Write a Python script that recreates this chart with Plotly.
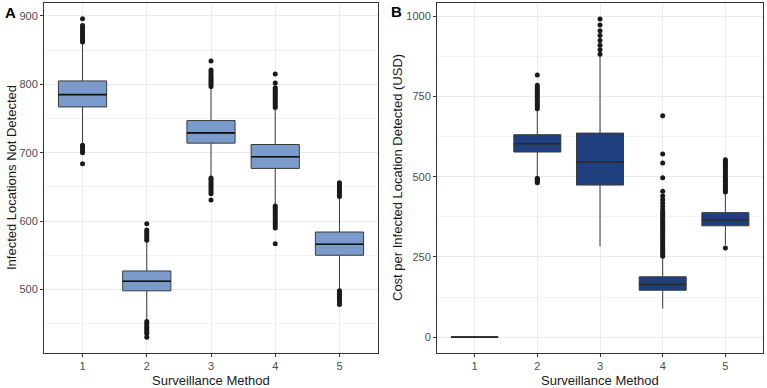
import plotly.graph_objects as go

W, H = 767, 388

methods = [1, 2, 3, 4, 5]

# Panel A: Infected Locations Not Detected (box statistics)
a_q1 = [767, 498, 714, 677, 550]
a_med = [785, 512, 729, 694, 566]
a_q3 = [805, 527, 747, 712, 584]
a_lo = [712, 455, 665, 625, 500]
a_hi = [860, 570, 796, 765, 635]
a_out = {
    1: [862, 865, 868, 871, 874, 877, 880, 883, 886, 896, 700, 703, 706, 709, 711, 684],
    2: [572, 575, 578, 581, 584, 587, 596, 435, 438, 441, 444, 447, 450, 453, 430],
    3: [797, 800, 803, 806, 809, 812, 815, 818, 821, 834, 640, 643, 646, 649, 652, 655, 658, 661, 663, 631],
    4: [766, 769, 772, 775, 778, 781, 784, 787, 790, 793, 795, 802, 815,
        590, 593, 596, 599, 602, 605, 608, 611, 614, 617, 620, 622, 567],
    5: [636, 639, 642, 645, 648, 651, 654, 656, 478, 481, 484, 487, 490, 493, 496, 498],
}

# Panel B: Cost per Infected Location Detected (USD)
b_q1 = [0, 577, 474, 146, 347]
b_med = [0, 603, 546, 164, 366]
b_q3 = [0, 631, 636, 188, 388]
b_lo = [0, 497, 283, 89, 288]
b_hi = [0, 710, 878, 250, 449]
b_out = {
    1: [],
    2: [712, 718, 724, 730, 736, 742, 748, 754, 760, 766, 772, 778, 785, 817, 481, 485, 489, 493, 495],
    3: [882, 896, 910, 925, 940, 955, 973, 992],
    4: [252, 258, 264, 270, 276, 282, 288, 294, 300, 306, 312, 318, 324, 330, 336, 342, 348,
        354, 360, 366, 372, 378, 384, 390, 397, 408, 418, 428, 440, 455, 497, 543, 571, 690],
    5: [452, 458, 464, 470, 476, 482, 488, 494, 500, 506, 512, 518, 524, 530, 536, 542, 548, 553, 278],
}

fill_a = "#7B9BCC"
fill_b = "#1F3F7E"
line_c = "#3a3a3a"
box_w = 0.75

fig = go.Figure()


def add_panel(q1, med, q3, lo, hi, out, fill, xa, ya, med_color):
    fig.add_trace(go.Box(
        x=methods, q1=q1, median=med, q3=q3, lowerfence=lo, upperfence=hi,
        fillcolor=fill, line=dict(color=line_c, width=1), width=box_w, whiskerwidth=0,
        boxpoints=False, xaxis=xa, yaxis=ya, showlegend=False, hoverinfo="skip"))
    mx, my = [], []
    for m, v in zip(methods, med):
        mx += [m - box_w / 2, m + box_w / 2, None]
        my += [v, v, None]
    fig.add_trace(go.Scatter(x=mx, y=my, mode="lines", line=dict(color=med_color, width=1.6),
                             xaxis=xa, yaxis=ya, showlegend=False, hoverinfo="skip"))
    ox, oy = [], []
    for m in methods:
        ox += [m] * len(out[m]); oy += out[m]
    fig.add_trace(go.Scatter(x=ox, y=oy, mode="markers", marker=dict(color="#1a1a1a", size=5),
                             xaxis=xa, yaxis=ya, showlegend=False, hoverinfo="skip"))


add_panel(a_q1, a_med, a_q3, a_lo, a_hi, a_out, fill_a, "x", "y", "#111111")
add_panel(b_q1, b_med, b_q3, b_lo, b_hi, b_out, fill_b, "x2", "y2", "#2a2a2a")

tickfont = dict(family="Liberation Sans, Arial, sans-serif", size=11, color="#4D4D4D")
grid = "#EBEBEB"
common_x = dict(range=[0.4, 5.6], tickvals=methods, showgrid=True, gridcolor=grid, gridwidth=1,
                showline=True, mirror=True, linecolor="#333333", linewidth=1, ticks="outside",
                ticklen=3, tickcolor="#333333", tickfont=tickfont, zeroline=False, automargin=False)
common_y = dict(showgrid=True, gridcolor=grid, gridwidth=1, showline=True, mirror=True,
                linecolor="#333333", linewidth=1, ticks="outside", ticklen=3, tickcolor="#333333",
                tickfont=tickfont, zeroline=False, automargin=False)

ydom = [1 - 353 / H, 1 - 3 / H]
fig.update_layout(
    width=W, height=H, margin=dict(l=0, r=0, t=0, b=0),
    paper_bgcolor="white", plot_bgcolor="white",
    xaxis=dict(domain=[44 / W, 378 / W], anchor="y", **common_x),
    yaxis=dict(domain=ydom, anchor="x", range=[407, 919], tickvals=[500, 600, 700, 800, 900],
               minor=dict(showgrid=True, gridcolor="#F3F3F3", gridwidth=0.5,
                          tickvals=[450, 550, 650, 750, 850]), **common_y),
    xaxis2=dict(domain=[437 / W, 763 / W], anchor="y2", **common_x),
    yaxis2=dict(domain=ydom, anchor="x2", range=[-49.6, 1041.6], tickvals=[0, 250, 500, 750, 1000],
                minor=dict(showgrid=True, gridcolor="#F3F3F3", gridwidth=0.5,
                           tickvals=[125, 375, 625, 875]), **common_y),
    font=dict(family="Liberation Sans, Arial, sans-serif"),
)

tfont = dict(family="Liberation Sans, Arial, sans-serif", size=13, color="#1a1a1a")
ann = [
    dict(text="Surveillance Method", x=211 / W, y=1 - 380 / H),
    dict(text="Surveillance Method", x=600 / W, y=1 - 380 / H),
    dict(text="Infected Locations Not Detected", x=12 / W, y=1 - 178 / H, textangle=-90),
    dict(text="Cost per Infected Location Detected (USD)", x=398 / W, y=1 - 178 / H, textangle=-90),
]
for a in ann:
    fig.add_annotation(xref="paper", yref="paper", showarrow=False, xanchor="center",
                       yanchor="middle", font=tfont, **a)
lfont = dict(family="Liberation Sans, Arial, sans-serif", size=15, color="black")
fig.add_annotation(text="<b>A</b>", x=10 / W, y=1 - 13 / H, xref="paper", yref="paper",
                   showarrow=False, xanchor="center", yanchor="middle", font=lfont)
fig.add_annotation(text="<b>B</b>", x=396 / W, y=1 - 11 / H, xref="paper", yref="paper",
                   showarrow=False, xanchor="center", yanchor="middle", font=lfont)

fig.write_html("out.html")
